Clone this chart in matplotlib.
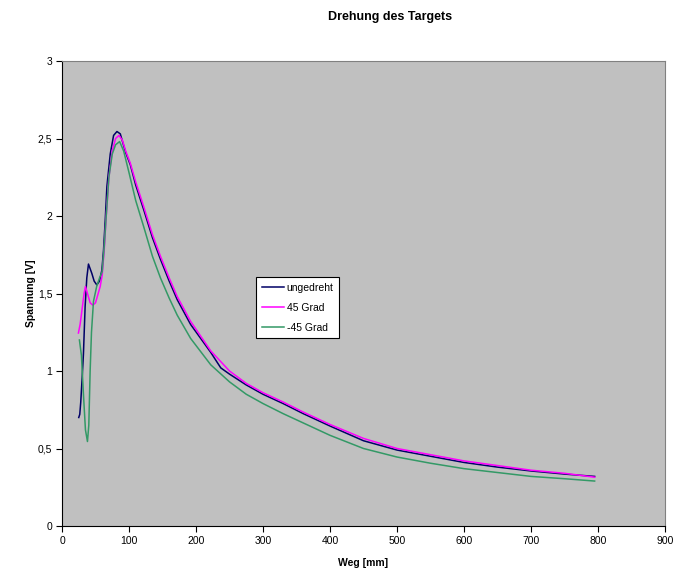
#!/usr/bin/env python3
import matplotlib
matplotlib.use("Agg")
import matplotlib.pyplot as plt
from matplotlib.ticker import FuncFormatter

plt.rcParams['font.family'] = ['Liberation Sans', 'DejaVu Sans']

# values (Weg [mm] -> Spannung [V])
x_ungedreht = [25, 26.5, 28, 30, 32, 34.5, 37, 39.5, 42, 44.5, 48, 52, 56, 59.5, 62, 64.5,
               67, 72, 77, 82, 87, 95, 102, 110, 122, 135, 147, 160, 172, 192, 222, 237,
               250, 275, 300, 330, 360, 400, 450, 500, 550, 600, 650, 700, 750, 795]
y_ungedreht = [0.70, 0.72, 0.80, 0.95, 1.11, 1.415, 1.60, 1.69, 1.66, 1.63, 1.58, 1.555, 1.58,
               1.65, 1.78, 1.97, 2.19, 2.40, 2.52, 2.545, 2.53, 2.41, 2.33, 2.20, 2.04, 1.86,
               1.72, 1.58, 1.46, 1.30, 1.12, 1.02, 0.98, 0.91, 0.85, 0.79, 0.725, 0.645,
               0.55, 0.49, 0.45, 0.41, 0.38, 0.355, 0.335, 0.32]

x_plus45 = [24.5, 27, 30, 33, 35, 38, 42, 46, 50, 54, 57, 60, 63, 66, 70, 75, 80, 85, 90,
            95, 102, 110, 122, 135, 147, 160, 172, 192, 222, 250, 275, 300, 330, 360, 400,
            450, 500, 550, 600, 650, 700, 750, 795]
y_plus45 = [1.245, 1.30, 1.40, 1.50, 1.545, 1.50, 1.44, 1.425, 1.44, 1.50, 1.545, 1.62, 1.78,
            2.0, 2.25, 2.42, 2.50, 2.52, 2.49, 2.42, 2.34, 2.22, 2.06, 1.88, 1.74, 1.60, 1.48,
            1.32, 1.13, 1.00, 0.92, 0.86, 0.80, 0.735, 0.655, 0.565, 0.50, 0.46, 0.42, 0.39,
            0.36, 0.34, 0.315]

x_minus45 = [26, 29, 32, 35, 38, 40, 42, 44, 47, 52, 56, 60, 63, 66, 70, 75, 80, 86, 92,
             100, 110, 122, 135, 147, 160, 172, 192, 222, 250, 275, 300, 330, 360, 400, 450,
             500, 550, 600, 650, 700, 750, 795]
y_minus45 = [1.20, 1.10, 0.85, 0.62, 0.545, 0.65, 1.0, 1.25, 1.45, 1.55, 1.60, 1.64, 1.80,
             2.0, 2.25, 2.40, 2.46, 2.48, 2.42, 2.28, 2.10, 1.93, 1.74, 1.60, 1.47, 1.36,
             1.21, 1.04, 0.93, 0.85, 0.79, 0.725, 0.665, 0.585, 0.50, 0.445, 0.405, 0.37,
             0.345, 0.32, 0.305, 0.29]

x_ticks = [0, 100, 200, 300, 400, 500, 600, 700, 800, 900]
y_ticks = [0, 0.5, 1, 1.5, 2, 2.5, 3]

fig = plt.figure(figsize=(6.96, 5.79), dpi=100)
ax = fig.add_axes([62 / 696, 53 / 579, 603 / 696, 465 / 579])
ax.set_facecolor('#c0c0c0')

ax.plot(x_ungedreht, y_ungedreht, color='#000066', lw=1.1, label='ungedreht')
ax.plot(x_plus45, y_plus45, color='#ff00ff', lw=1.1, label='45 Grad')
ax.plot(x_minus45, y_minus45, color='#339966', lw=1.1, label='-45 Grad')

ax.set_xlim(0, 900)
ax.set_ylim(0, 3)
ax.set_xticks(x_ticks)
ax.set_yticks(y_ticks)
ax.yaxis.set_major_formatter(FuncFormatter(lambda v, p: ('%g' % v).replace('.', ',')))
ax.tick_params(direction='out', length=4, width=0.8, labelsize=7.5, pad=3)

for s in ['top', 'right']:
    ax.spines[s].set_color('#808080')
for s in ['left', 'bottom']:
    ax.spines[s].set_color('black')

ax.set_xlabel('Weg [mm]', fontsize=7.5, fontweight='bold', labelpad=9)
ax.set_ylabel('Spannung [V]', fontsize=7.5, fontweight='bold', labelpad=1)

fig.text(390 / 696, 1 - 17 / 579, 'Drehung des Targets', ha='center', va='center',
         fontsize=9, fontweight='bold',
         family=['Liberation Sans Narrow', 'Liberation Sans', 'DejaVu Sans'])

leg = ax.legend(loc='upper left', bbox_to_anchor=((256 - 62) / 603, (526 - 277) / 465),
                fontsize=7.5, frameon=True, fancybox=False, framealpha=1,
                edgecolor='black', handlelength=2.1, borderpad=0.55, labelspacing=0.95,
                handletextpad=0.3, borderaxespad=0)
leg.get_frame().set_linewidth(0.8)

fig.savefig('out.png', dpi=100)
